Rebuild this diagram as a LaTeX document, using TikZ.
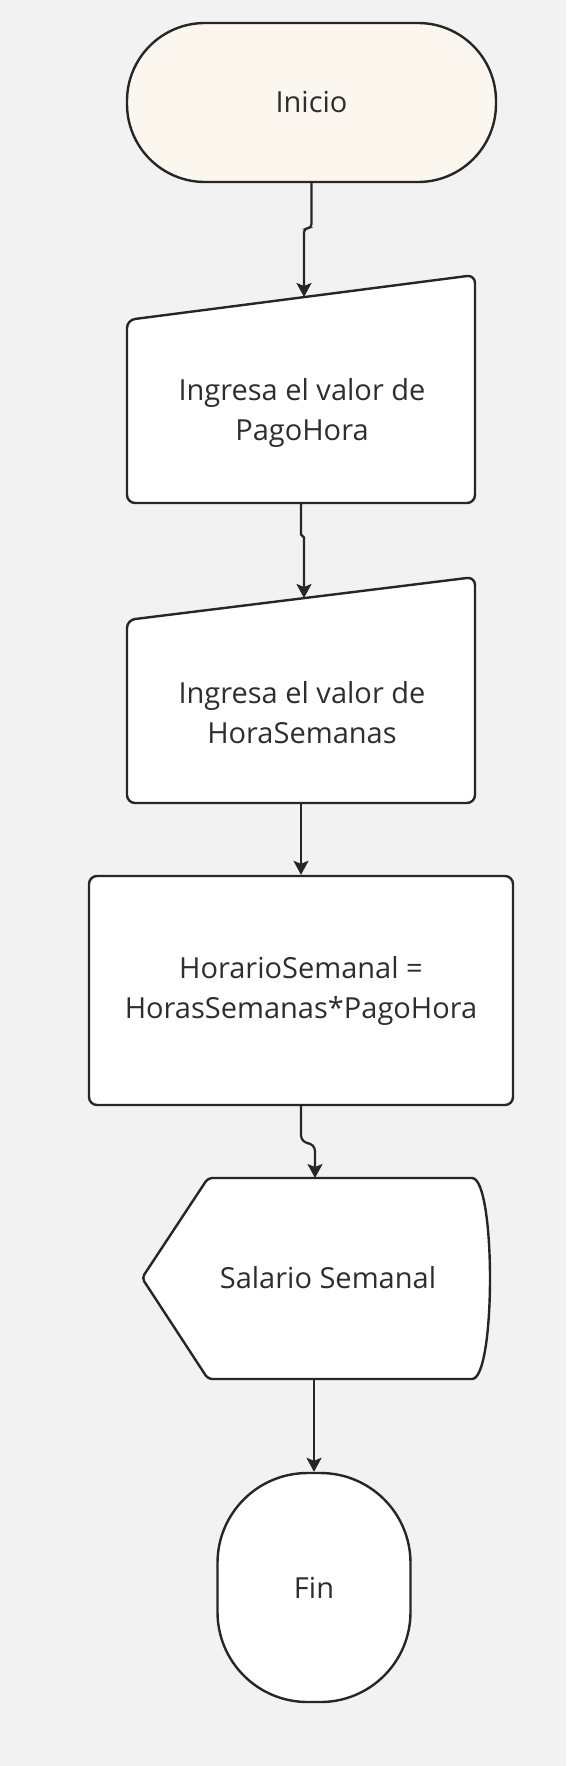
\documentclass[tikz,border=0pt]{standalone}
\usepackage{fontspec}
\setmainfont{Open Sans}
\usetikzlibrary{arrows.meta}
\definecolor{bg}{HTML}{F2F2F2}
\definecolor{ink}{HTML}{262626}
\definecolor{txt}{HTML}{2E2E2E}
\definecolor{cream}{HTML}{FBF7EF}
\begin{document}
\begin{tikzpicture}[x=1pt,y=-1pt,
  shp/.style={draw=ink, line width=2.4pt, fill=white, line join=round},
  lbl/.style={text=txt, font=\fontsize{29}{40}\selectfont, align=center},
  conn/.style={draw=ink, line width=2.2pt, -{Stealth[length=14pt,width=15pt,inset=3pt]}, rounded corners=4pt}]
\fill[bg] (0,0) rectangle (566,1766);
\useasboundingbox (0,0) rectangle (566,1766);

% Start
\node[shp, fill=cream, rounded corners=78pt, minimum width=369pt, minimum height=159pt, lbl] (inicio) at (311.5,102.5) {Inicio};

% Input 1
\draw[shp, rounded corners=8pt] (127,320) -- (475,275) -- (475,503) -- (127,503) -- cycle;
\node[lbl] (in1) at (302,413) {Ingresa el valor de\\PagoHora};
\coordinate (in1top) at (304,297);
\coordinate (in1bot) at (301,503);

% Input 2
\draw[shp, rounded corners=8pt] (127,620) -- (475,577) -- (475,803) -- (127,803) -- cycle;
\node[lbl] (in2) at (302,713) {Ingresa el valor de\\HoraSemanas};
\coordinate (in2top) at (304,598);
\coordinate (in2bot) at (301,803);

% Process
\node[shp, rounded corners=8pt, minimum width=424pt, minimum height=229pt, lbl] (proc) at (301,990.5) {HorarioSemanal =\\HorasSemanas*PagoHora};

% Display
\draw[shp, rounded corners=4pt] (142,1278) -- (208,1178) -- (468,1178) .. controls (496,1178) and (496,1379) .. (468,1379) -- (208,1379) -- cycle;
\node[lbl] (disp) at (328,1278) {Salario Semanal};
\coordinate (disptop) at (315,1178);
\coordinate (dispbot) at (314,1379);

% End
\node[shp, rounded corners=90pt, minimum width=193pt, minimum height=229pt, lbl] (fin) at (314,1587.5) {Fin};

% Connectors
\draw[conn] (inicio.south) -- ++(0,45) -| (in1top);
\draw[conn, rounded corners=1.5pt] (in1bot) -- ++(0,33) -| (in2top);
\draw[conn] (in2bot) -- (proc.north);
\draw[conn, rounded corners=8pt] (proc.south) -- ++(0,37) -| (disptop);
\draw[conn] (dispbot) -- (fin.north);
\end{tikzpicture}
\end{document}
